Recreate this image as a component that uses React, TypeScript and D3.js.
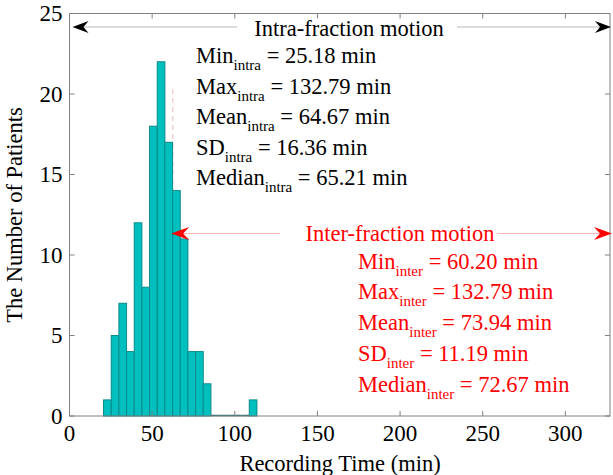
import React from "react";
import * as d3 from "d3";

// ---- data ----
const binStart = 20.6; // left edge of first bin (min)
const binWidth = 4.64; // bin width (min)
const counts = [1, 5, 7, 4, 12, 8, 18, 22, 17, 14, 11, 4, 4, 2, 0, 0, 0, 0, 0, 1];
const xTicks = [0, 50, 100, 150, 200, 250, 300];
const yTicks = [0, 5, 10, 15, 20, 25];
const xDomain: [number, number] = [0, 327];
const yDomain: [number, number] = [0, 25];

const intraTitle = "Intra-fraction motion";
const intraLabels = ["Min", "Max", "Mean", "SD", "Median"];
const intraValues = ["25.18", "132.79", "64.67", "16.36", "65.21"];
const interTitle = "Inter-fraction motion";
const interLabels = ["Min", "Max", "Mean", "SD", "Median"];
const interValues = ["60.20", "132.79", "73.94", "11.19", "72.67"];
const interStart = 61.5; // start of inter-fraction arrow (min)

const W = 613;
const H = 475;
const FONT = "'Liberation Serif', 'Times New Roman', serif";

function arrowHead(tipX: number, y: number, dir: number, color: string, L: number, hw: number, notch: number) {
  // notched arrowhead (MATLAB vback2 style); dir = -1 points left, 1 points right
  const p = [
    [tipX, y],
    [tipX - dir * L, y - hw],
    [tipX - dir * (L - notch), y],
    [tipX - dir * L, y + hw],
  ];
  return <path d={"M" + p.map((q) => q.join(",")).join("L") + "Z"} fill={color} stroke="none" />;
}

export default function App() {
  const x = d3.scaleLinear().domain(xDomain).range([69.5, 610]);
  const y = d3.scaleLinear().domain(yDomain).range([416, 13.5]);
  const x0 = x.range()[0];
  const x1 = x.range()[1];
  const y0 = y.range()[0];
  const y1 = y.range()[1];
  const axisColor = "#808080";
  const tickLen = 5;

  const bins = counts.map((c, i) => ({
    x0: binStart + i * binWidth,
    x1: binStart + (i + 1) * binWidth,
    c,
  }));

  const intraY = 27;
  const interY = 233.5;

  return (
    <svg width={W} height={H} style={{ display: "block", position: "absolute", left: 0, top: 0, background: "#fff" }} fontFamily={FONT}>
      <rect x={0} y={0} width={W} height={H} fill="#fff" />
      {/* dashed marker line */}
      <line x1={x(interStart + 1)} x2={x(interStart + 1)} y1={y(20.3)} y2={y(0)} stroke="#f2b8b8" strokeWidth={1} strokeDasharray="5,4" />
      {/* bars */}
      {bins.map((b, i) =>
        b.c > 0 ? (
          <rect
            key={i}
            x={x(b.x0)}
            y={y(b.c)}
            width={x(b.x1) - x(b.x0)}
            height={y(0) - y(b.c)}
            fill="#00bfbf"
            stroke="#0a8a8a"
            strokeWidth={1}
          />
        ) : (
          <line key={i} x1={x(b.x0)} x2={x(b.x1)} y1={y(0) - 0.5} y2={y(0) - 0.5} stroke="#2a6f6f" strokeWidth={1.5} />
        )
      )}
      {/* box axes */}
      <rect x={x0} y={y1} width={x1 - x0} height={y0 - y1} fill="none" stroke={axisColor} strokeWidth={1} />
      {xTicks.map((t) => (
        <g key={"xt" + t}>
          <line x1={x(t)} x2={x(t)} y1={y0} y2={y0 - tickLen} stroke={axisColor} />
          <line x1={x(t)} x2={x(t)} y1={y1} y2={y1 + tickLen} stroke={axisColor} />
          <text x={x(t)} y={441} textAnchor="middle" fontSize={23} fill="#000">
            {t}
          </text>
        </g>
      ))}
      {yTicks.map((t) => (
        <g key={"yt" + t}>
          <line x1={x0} x2={x0 + tickLen} y1={y(t)} y2={y(t)} stroke={axisColor} />
          <line x1={x1} x2={x1 - tickLen} y1={y(t)} y2={y(t)} stroke={axisColor} />
          <text x={62.5} y={y(t) + 7.5} textAnchor="end" fontSize={23} fill="#000">
            {t}
          </text>
        </g>
      ))}
      <text x={340} y={471} textAnchor="middle" fontSize={22.5} fill="#000">
        Recording Time (min)
      </text>
      <text transform={`translate(22,215) rotate(-90)`} textAnchor="middle" fontSize={22.5} fill="#000">
        The Number of Patients
      </text>

      {/* intra-fraction arrow */}
      <line x1={x(0) + 10} x2={237} y1={intraY} y2={intraY} stroke="#b8b8b8" strokeWidth={1} />
      <line x1={457} x2={x1 - 10} y1={intraY} y2={intraY} stroke="#b8b8b8" strokeWidth={1} />
      {arrowHead(x(0) + 3, intraY, -1, "#000", 16, 6, 5)}
      {arrowHead(x1 + 1, intraY, 1, "#000", 16, 6, 5)}
      <text x={349} y={36} textAnchor="middle" fontSize={22.5} fill="#000">
        {intraTitle}
      </text>
      {intraLabels.map((l, i) => (
        <text key={"ia" + i} x={196} y={63 + i * 30.6} fontSize={22.5} fill="#000">
          <tspan>{l}</tspan>
          <tspan dy={7} fontSize={15}>intra</tspan>
          <tspan dy={-7}>{" = " + intraValues[i] + " min"}</tspan>
        </text>
      ))}

      {/* inter-fraction arrow */}
      <line x1={x(interStart) + 10} x2={280} y1={interY} y2={interY} stroke="#ffb4b4" strokeWidth={1} />
      <line x1={497} x2={602} y1={interY} y2={interY} stroke="#ffb4b4" strokeWidth={1} />
      {arrowHead(x(interStart), interY, -1, "#ff0000", 18, 6.5, 6)}
      {arrowHead(612, interY, 1, "#ff0000", 18, 6.5, 6)}
      <text x={400} y={241} textAnchor="middle" fontSize={22.5} fill="#ff0000">
        {interTitle}
      </text>
      {interLabels.map((l, i) => (
        <text key={"ie" + i} x={358} y={268.5 + i * 30.8} fontSize={22.5} fill="#ff0000">
          <tspan>{l}</tspan>
          <tspan dy={7} fontSize={15}>inter</tspan>
          <tspan dy={-7}>{" = " + interValues[i] + " min"}</tspan>
        </text>
      ))}
    </svg>
  );
}
